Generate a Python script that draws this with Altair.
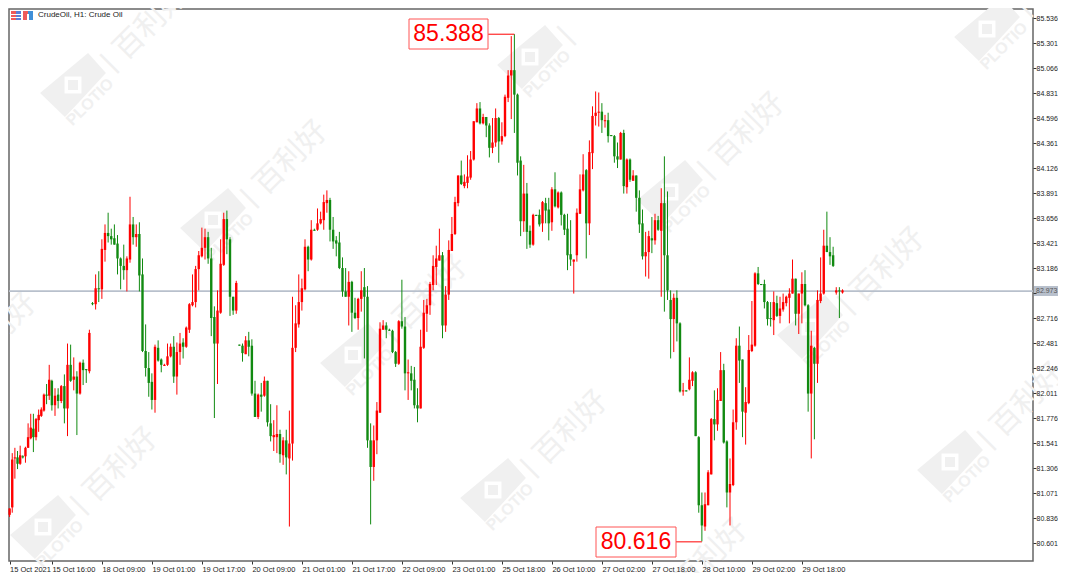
import altair as alt
import pandas as pd

directions = (
    "RRRGRGRRRG" "RRRRGRGRGR" "GRGRGRGGRG" "RGRRGGGGGG" "RRGRGGGGGR" "GGRRRGRRGR" "RRRRRRGGGR"
    "RRGGGRGGRG" "GGRGRGGRRG" "RGRRRRRRGR" "GRRRRGGGGG" "GRGGRRGGGR" "RRRGGGGRGG" "RGGGRRRRRR"
    "RGRRRRRGRR" "RRRGRGGRRG" "RRRRGGGRGG" "RGGRGGRGRG" "GGGRRRRGRR" "RRGRGGGGRG" "RGRGGGRRGR"
    "GRGGGRGGRG" "RRGGGRRRGR" "RGGRRRGGRR" "RRGGGGGRGR" "RRRRGRRGGR" "GRRRGGGRGR"
)
body_top = [
    80.93,81.39,81.41,81.41,81.43,81.42,81.50,81.60,81.69,81.68,
    81.77,81.81,81.86,82.00,82.00,82.14,82.13,81.99,82.00,82.08,
    82.08,82.28,82.28,82.17,82.17,82.30,82.30,82.24,82.58,82.86,
    83.00,83.00,83.37,83.52,83.52,83.49,83.47,83.42,83.28,83.21,
    83.28,83.60,83.60,83.51,83.51,83.13,82.41,82.25,82.12,82.45,
    82.44,82.33,82.28,82.36,82.45,82.45,82.40,82.48,82.49,82.63,
    82.85,82.87,83.18,83.31,83.38,83.48,83.48,83.28,82.73,82.79,
    83.23,83.65,83.65,83.46,82.92,83.05,82.47,82.46,82.51,82.51,
    82.46,82.01,82.00,82.00,82.13,82.13,81.73,81.62,81.63,81.63,
    81.57,81.57,81.54,82.44,82.67,82.87,83.00,83.39,83.39,83.55,
    83.55,83.61,83.65,83.81,83.83,83.83,83.55,83.45,83.43,83.19,
    82.97,83.06,83.06,82.77,82.90,82.98,83.01,82.92,81.57,81.57,
    81.85,82.62,82.65,82.65,82.61,82.60,82.40,82.69,82.69,82.64,
    82.21,82.20,82.14,81.90,82.45,82.77,82.84,83.04,83.21,83.28,
    83.31,83.31,82.94,83.36,83.51,83.81,84.06,84.06,84.00,84.05,
    84.21,84.57,84.69,84.69,84.61,84.61,84.53,84.37,84.60,84.60,
    84.43,84.80,85.00,85.05,85.05,84.82,84.20,83.89,83.89,83.54,
    83.69,83.69,83.69,83.81,83.80,83.74,83.93,83.93,83.90,83.90,
    83.69,83.56,83.32,83.27,83.71,83.93,84.07,84.11,84.28,84.62,
    84.65,84.66,84.66,84.58,84.58,84.44,84.43,84.24,84.46,84.46,
    84.21,84.21,84.06,84.06,83.85,83.61,83.34,83.49,83.47,83.64,
    83.64,83.80,83.80,83.31,82.89,82.91,82.91,82.67,82.04,82.04,
    82.14,82.21,82.21,81.60,80.96,80.97,81.27,81.77,81.77,81.95,
    82.23,82.23,81.56,81.16,81.74,82.46,82.46,82.33,81.93,82.42,
    82.47,83.14,83.14,83.04,83.04,82.87,82.72,82.87,82.86,82.81,
    82.87,82.92,82.95,83.09,83.09,82.95,83.04,83.04,82.84,82.46,
    82.44,82.89,82.95,83.40,83.40,83.34,83.31,82.98,82.98,82.98,
]
body_bottom = [
    80.87,80.94,81.40,81.35,81.35,81.41,81.42,81.50,81.59,81.60,
    81.60,81.76,81.80,81.85,81.99,81.99,81.90,81.90,81.94,81.94,
    81.87,81.87,82.13,82.14,82.01,82.01,82.23,82.23,82.22,82.85,
    82.85,82.99,82.99,83.36,83.49,83.46,83.41,83.28,83.21,83.17,
    83.17,83.27,83.48,83.48,83.12,82.41,82.25,82.11,81.95,81.95,
    82.32,82.28,82.27,82.28,82.36,82.17,82.17,82.40,82.45,82.45,
    82.61,82.84,82.87,83.18,83.30,83.38,83.28,82.72,82.48,82.48,
    82.77,83.22,83.46,82.92,82.79,82.79,82.46,82.39,82.38,82.45,
    82.01,81.79,81.79,81.98,81.99,81.74,81.61,81.60,81.60,81.44,
    81.43,81.41,81.40,81.54,82.44,82.66,82.87,82.99,83.27,83.27,
    83.54,83.55,83.61,83.64,83.80,83.55,83.44,83.42,83.19,82.97,
    82.92,82.92,82.77,82.72,82.72,82.90,82.92,81.57,81.32,81.32,
    81.57,81.83,82.61,82.61,82.60,82.40,82.29,82.29,82.64,82.20,
    82.20,82.13,81.90,81.87,81.87,82.44,82.76,82.84,83.03,83.20,
    83.26,82.65,82.65,82.94,83.35,83.51,83.80,83.98,83.96,83.99,
    84.04,84.21,84.56,84.55,84.55,84.53,84.32,84.32,84.37,84.38,
    84.38,84.43,84.79,85.00,84.82,84.18,83.63,83.63,83.53,83.41,
    83.41,83.68,83.60,83.61,83.73,83.61,83.62,83.77,83.76,83.69,
    83.55,83.31,83.27,83.25,83.31,83.70,83.92,83.61,83.61,84.27,
    84.62,84.65,84.58,84.57,84.43,84.43,84.24,84.21,84.21,83.96,
    83.95,84.02,84.01,83.85,83.60,83.30,83.30,83.34,83.45,83.45,
    83.55,83.54,83.31,82.98,82.71,82.71,82.67,82.03,82.03,82.03,
    82.05,82.13,81.61,80.96,80.77,80.76,80.96,81.25,81.72,81.72,
    81.94,81.55,81.08,81.08,81.15,81.74,82.32,81.84,81.83,81.92,
    82.41,82.46,83.04,83.03,82.87,82.71,82.71,82.70,82.74,82.74,
    82.80,82.86,82.91,82.95,82.76,82.76,82.95,82.84,82.01,82.01,
    82.29,82.29,82.88,82.95,83.34,83.30,83.21,82.96,82.97,82.96,
]
highs = [
    80.93,81.45,81.50,81.47,81.52,81.43,81.51,81.73,81.82,81.82,
    81.78,81.86,81.88,82.01,82.10,82.28,82.14,82.06,82.06,82.09,
    82.19,82.48,82.47,82.35,82.22,82.31,82.33,82.24,82.61,82.87,
    83.13,83.16,83.46,83.60,83.71,83.56,83.60,83.50,83.29,83.41,
    83.30,83.86,83.67,83.60,83.62,83.28,82.66,82.40,82.20,82.47,
    82.51,82.34,82.29,82.48,82.48,82.55,82.49,82.58,82.53,82.64,
    82.86,83.13,83.21,83.35,83.57,83.56,83.53,83.38,82.83,82.98,
    83.46,83.71,83.73,83.48,82.92,83.07,82.47,82.48,82.55,82.59,
    82.52,82.13,82.01,82.11,82.17,82.13,81.91,81.76,81.90,81.67,
    81.60,81.67,81.85,82.92,82.84,83.13,83.09,83.46,83.40,83.64,
    83.56,83.75,83.72,83.88,83.92,83.85,83.67,83.49,83.53,83.29,
    83.19,83.16,83.07,82.91,82.91,83.16,83.19,83.02,81.73,81.71,
    81.93,82.68,82.70,82.68,82.62,82.61,82.41,82.70,83.08,82.73,
    82.33,82.27,82.26,82.06,82.61,82.89,82.90,83.06,83.31,83.40,
    83.56,83.34,83.02,83.45,83.67,83.86,84.06,84.20,84.07,84.25,
    84.29,84.57,84.74,84.75,84.64,84.61,84.55,84.60,84.69,84.61,
    84.56,84.82,85.05,85.37,85.388,84.83,84.24,84.16,83.99,83.59,
    83.70,83.69,83.74,83.82,83.85,83.85,83.95,84.09,83.91,83.91,
    83.70,83.70,83.64,83.27,83.75,84.07,84.26,84.12,84.39,84.71,
    84.85,84.84,84.74,84.63,84.65,84.44,84.44,84.37,84.47,84.49,
    84.22,84.22,84.11,84.06,83.92,83.74,83.53,83.54,83.67,83.70,
    83.68,83.94,84.24,83.91,82.98,82.95,82.98,82.68,82.11,82.04,
    82.35,82.22,82.22,81.61,81.08,81.08,81.29,81.78,82.04,82.06,
    82.40,82.29,81.57,81.40,81.86,82.53,82.64,82.33,82.07,82.56,
    82.88,83.15,83.20,83.04,83.08,82.88,82.87,82.97,82.93,82.92,
    82.95,82.93,83.00,83.27,83.09,82.95,83.15,83.17,82.85,82.60,
    82.45,82.98,83.29,83.55,83.72,83.48,83.39,83.01,83.01,82.99,
]
lows = [
    80.85,80.89,81.21,81.30,81.34,81.40,81.36,81.50,81.58,81.46,
    81.57,81.65,81.79,81.84,81.91,81.95,81.85,81.80,81.87,81.92,
    81.73,81.61,82.12,82.04,81.62,82.00,82.09,82.11,82.20,82.84,
    82.80,82.87,82.90,83.25,83.43,83.41,83.41,83.13,82.99,83.08,
    82.97,83.24,83.41,83.39,82.97,82.40,82.17,81.98,81.86,81.83,
    82.31,82.21,82.27,82.27,82.35,82.11,82.00,82.28,82.34,82.44,
    82.58,82.83,82.82,82.98,83.29,83.27,83.23,82.55,81.78,82.10,
    82.76,83.21,83.32,82.74,82.75,82.76,82.46,82.31,82.38,82.36,
    81.99,81.79,81.77,81.84,81.98,81.70,81.56,81.47,81.45,81.36,
    81.34,81.25,80.76,81.38,82.40,82.63,82.79,82.98,83.16,83.26,
    83.54,83.54,83.60,83.55,83.71,83.44,83.37,83.30,83.18,82.92,
    82.92,82.65,82.59,82.71,82.61,82.78,82.34,81.50,80.78,81.19,
    81.44,81.83,82.61,82.53,82.60,82.39,82.26,82.28,82.62,82.04,
    81.95,82.04,81.87,81.74,81.87,82.43,82.59,82.75,82.98,83.03,
    83.26,82.53,82.59,82.89,83.35,83.50,83.77,83.97,83.94,83.94,
    84.02,84.20,84.56,84.54,84.54,84.42,84.23,84.27,84.33,84.18,
    84.35,84.42,84.75,84.59,84.46,84.06,83.49,83.53,83.37,83.38,
    83.40,83.68,83.58,83.53,83.61,83.45,83.54,83.76,83.75,83.59,
    83.50,83.17,83.21,82.95,83.25,83.70,83.91,83.28,83.50,84.12,
    84.53,84.52,84.46,84.51,84.37,84.43,84.18,84.13,84.21,83.89,
    83.89,84.00,84.01,83.72,83.52,83.27,83.11,83.09,83.33,83.41,
    83.54,82.92,82.78,82.89,82.34,82.40,82.50,82.02,81.99,82.03,
    82.04,82.08,81.61,80.89,80.62,80.72,80.96,81.25,81.57,81.66,
    81.94,81.54,80.94,80.77,81.14,81.67,82.11,81.60,81.53,81.91,
    82.40,82.45,83.03,83.03,82.81,82.65,82.64,82.56,82.73,82.67,
    82.78,82.83,82.67,82.95,82.65,82.57,82.67,82.83,81.84,81.40,
    81.58,82.11,82.86,82.94,83.34,83.22,83.20,82.94,82.72,82.95,
]
time_labels = ["15 Oct 2021", "15 Oct 16:00", "18 Oct 09:00", "19 Oct 01:00", "19 Oct 17:00", "20 Oct 09:00",
               "21 Oct 01:00", "21 Oct 17:00", "22 Oct 09:00", "23 Oct 01:00", "25 Oct 18:00", "26 Oct 10:00",
               "27 Oct 02:00", "27 Oct 18:00", "28 Oct 10:00", "29 Oct 02:00", "29 Oct 18:00"]
price_ticks = [85.536, 85.301, 85.066, 84.831, 84.596, 84.361, 84.126, 83.891, 83.656, 83.421, 83.186,
               82.951, 82.716, 82.481, 82.246, 82.011, 81.776, 81.541, 81.306, 81.071, 80.836, 80.601]
price_tick_text = ["85.536", "85.301", "85.066", "84.831", "84.596", "84.361", "84.126", "83.891", "83.656",
                   "83.421", "83.186", "", "82.716", "82.481", "82.246", "82.011", "81.776", "81.541",
                   "81.306", "81.071", "80.836", "80.601"]
last_price = 82.973

RED, GREEN = "#ff0000", "#118a11"
PLOT_W, PLOT_H = 1024, 552
OX, OY = 9, 9  # where the plot area starts on the page
WM = "#f0f0f0"

df = pd.DataFrame({"bar": range(len(highs)), "top": body_top, "bottom": body_bottom,
                   "high": highs, "low": lows, "dir": list(directions)})

# the first label interval is slightly tighter because the page margin takes the left edge
x_scale = alt.Scale(domain=[0, 16, 329.96], range=[0.6, 42.875, PLOT_W], nice=False, zero=False)
y_scale = alt.Scale(domain=[80.436, 85.625], nice=False, zero=False)
color = alt.Color("dir:N", scale=alt.Scale(domain=["R", "G"], range=[RED, GREEN]), legend=None)

label_js = "[" + ",".join(f"'{t}'" for t in time_labels) + "]"
price_js = "{" + ",".join(f"'{v}':'{t}'" for v, t in zip(price_ticks, price_tick_text)) + "}"
x_axis = alt.Axis(values=[16 * i for i in range(len(time_labels))], title=None, grid=False, domain=False,
                  orient="bottom", tickSize=3, tickColor="#333", labelExpr=f"{label_js}[datum.value/16]",
                  labelAlign="left", labelFont="Liberation Sans", labelFontSize=7.5, labelColor="#222",
                  labelPadding=1, labelOverlap=False, labelFlush=False, labelBound=False, zindex=1)
y_axis = alt.Axis(values=price_ticks, title=None, grid=False, domain=False, orient="right", tickSize=3,
                  tickColor="#333", labelExpr=f"{price_js}[datum.value]", labelFont="Liberation Sans",
                  labelFontSize=7, labelColor="#222", labelPadding=0, labelOverlap=False, labelBound=False, zindex=1)

# watermark lattice, page positions
logo_x = [73, 213, 353, 493, 530, 670, 810, 950, 43, 987]
logo_y = [88, 223, 358, 493, 60, 195, 330, 465, 530, 32]
cn_x = [151, 291, 431, 571, 711, 748, 888, 1028, 121, 0]
cn_y = [23, 158, 293, 428, 556, 130, 265, 400, 465, 330]
lg = pd.DataFrame({"x": logo_x, "y": logo_y}) - [OX, OY]
lg = lg.assign(tx=lg.x + 17, ty=lg.y + 14, px=lg.x, py=lg.y - 3, lx=lg.x + 36, ly=lg.y - 25, t="PLOTIO")
wm_text = (pd.DataFrame({"x": cn_x, "y": cn_y}) - [OX, OY]).assign(t="百利好")

X = lambda f: alt.X(f, scale=None, axis=None)
Y = lambda f: alt.Y(f, scale=None, axis=None)
wm_logo = alt.Chart(lg).mark_point(
    shape="M-.94,.14L.43,-1L.94,-.43L.2,.37L-.23,.83Z", filled=True, color=WM, size=4900, opacity=1
).encode(x=X("x:Q"), y=Y("y:Q"))
wm_sq_w = alt.Chart(lg).mark_point(shape="square", filled=True, color="#ffffff", size=289, opacity=1).encode(
    x=X("px:Q"), y=Y("py:Q"))
wm_sq_g = alt.Chart(lg).mark_point(shape="square", filled=True, color=WM, size=100, opacity=1).encode(
    x=X("px:Q"), y=Y("py:Q"))
wm_plotio = alt.Chart(lg).mark_text(angle=315, font="Liberation Sans", fontWeight="bold", fontSize=16, color=WM).encode(
    x=X("tx:Q"), y=Y("ty:Q"), text="t:N")
wm_sep = alt.Chart(lg).mark_text(angle=315, font="Liberation Sans", fontSize=28, color=WM, text="|").encode(
    x=X("lx:Q"), y=Y("ly:Q"))
wm_cn = alt.Chart(wm_text).mark_text(angle=315, font="Noto Sans CJK SC", fontSize=30, color=WM).encode(
    x=X("x:Q"), y=Y("y:Q"), text="t:N")

wicks = alt.Chart(df).mark_rule(strokeWidth=1).encode(
    x=alt.X("bar:Q", scale=x_scale, axis=x_axis),
    y=alt.Y("low:Q", scale=y_scale, axis=y_axis), y2="high:Q", color=color)
bodies = alt.Chart(df).mark_rule(strokeWidth=2.4).encode(
    x=alt.X("bar:Q", scale=x_scale, axis=None), y=alt.Y("bottom:Q", scale=y_scale, axis=None), y2="top:Q", color=color)

price_df = pd.DataFrame({"p": [last_price], "t": [f"{last_price:.3f}"]})
price_line = alt.Chart(price_df).mark_rule(color="#b8c0cc", strokeWidth=1.6).encode(
    y=alt.Y("p:Q", scale=y_scale, axis=None))
price_box = alt.Chart(price_df).mark_rect(color="#b8c0cc").encode(
    x=alt.value(1025), x2=alt.value(1049), y=alt.value(277), y2=alt.value(287))
price_txt = alt.Chart(price_df).mark_text(
    font="Liberation Sans", fontSize=7, color="#555", align="left", baseline="middle").encode(
    x=alt.value(1027), y=alt.value(282), text="t:N")

# annotated extremes
ann = pd.DataFrame({"t": ["85.388", "80.616"], "p": [85.388, 80.616], "b0": [155.6, 215.7], "b1": [164.0, 224.0],
                    "x0": [400, 587], "x1": [479, 667], "y0": [10, 518], "y1": [40, 548]})
conn = alt.Chart(ann).mark_rule(color=RED, strokeWidth=1).encode(
    x=alt.X("b0:Q", scale=x_scale, axis=None), x2="b1:Q", y=alt.Y("p:Q", scale=y_scale, axis=None))
box = alt.Chart(ann).mark_rect(fill="#ffffff", stroke="#f55", strokeWidth=1).encode(
    x=X("x0:Q"), x2="x1:Q", y=Y("y0:Q"), y2="y1:Q")
ann_txt = alt.Chart(ann.assign(cx=(ann.x0 + ann.x1) / 2, cy=(ann.y0 + ann.y1) / 2)).mark_text(
    font="Liberation Sans", fontSize=23, color=RED, baseline="middle").encode(
    x=X("cx:Q"), y=Y("cy:Q"), text="t:N")

# header
header = alt.Chart(pd.DataFrame({"t": ["CrudeOil, H1:  Crude Oil"]})).mark_text(
    font="Liberation Sans", fontSize=8, color="#222", align="left", baseline="middle").encode(
    x=alt.value(29), y=alt.value(6), text="t:N")


def icon(x0, x1, y0, y1, c):
    return alt.Chart(pd.DataFrame({"a": [0]})).mark_rect(color=c).encode(
        x=alt.value(x0), x2=alt.value(x1), y=alt.value(y0), y2=alt.value(y1))


icons = [icon(2, 7, 2, 11, "#ee5a5a"), icon(7, 12, 2, 11, "#5a7fd8"),
         icon(2, 12, 5, 6, "#ffffff"), icon(2, 12, 8, 9, "#ffffff"),
         icon(14, 19, 2, 11, "#ee5a5a"), icon(19, 24, 2, 11, "#3f8fd8"), icon(18, 20, 5, 11, "#ffffff")]

chart = alt.layer(
    wm_logo, wm_sq_w, wm_sq_g, wm_plotio, wm_sep, wm_cn, price_line, wicks, bodies,
    conn, box, ann_txt, price_box, price_txt, header, *icons
).resolve_scale(x="independent", y="independent").properties(
    width=PLOT_W, height=PLOT_H,
    autosize=alt.AutoSizeParams(type="none"),
    padding={"left": 1, "top": 1, "right": 25, "bottom": 12},
    background="#ffffff",
).configure_view(stroke="#666666", strokeWidth=1.5)

chart.save("out.html", embed_options={"renderer": "svg", "actions": False})
